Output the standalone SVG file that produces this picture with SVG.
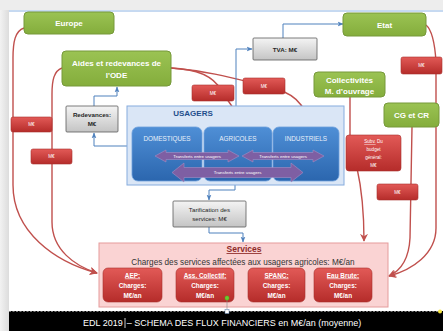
<svg xmlns="http://www.w3.org/2000/svg" width="443" height="331" viewBox="0 0 443 331">
<defs>
<linearGradient id="gGreen" x1="0" y1="0" x2="0" y2="1"><stop offset="0" stop-color="#9BC353"/><stop offset="1" stop-color="#84AD3C"/></linearGradient>
<linearGradient id="gRed" x1="0" y1="0" x2="0" y2="1"><stop offset="0" stop-color="#E25A57"/><stop offset="1" stop-color="#B52C2A"/></linearGradient>
<linearGradient id="gGray" x1="0" y1="0" x2="0" y2="1"><stop offset="0" stop-color="#F4F4F4"/><stop offset="1" stop-color="#C4C4C4"/></linearGradient>
<linearGradient id="gBlue" x1="0" y1="0" x2="0" y2="1"><stop offset="0" stop-color="#4F8FD6"/><stop offset="1" stop-color="#2B66AE"/></linearGradient>
<linearGradient id="gLeft" x1="0" y1="0" x2="1" y2="0"><stop offset="0" stop-color="#F2F2F2"/><stop offset="1" stop-color="#DCDCDC"/></linearGradient>
<marker id="aRedL" viewBox="0 0 10 10" refX="9" refY="5" markerWidth="8" markerHeight="8" orient="auto" markerUnits="userSpaceOnUse">
<path d="M0,0 L10,5 L0,10 L3,5 Z" fill="#C0504D"/></marker>
<marker id="aBlue" viewBox="0 0 10 10" refX="9" refY="5" markerWidth="6" markerHeight="6" orient="auto" markerUnits="userSpaceOnUse">
<path d="M0,1 L10,5 L0,9 L2.5,5 Z" fill="#4F81BD"/></marker>
</defs>
<style>
text{font-family:"Liberation Sans",Arial,sans-serif;text-anchor:middle}
.green{fill:url(#gGreen);stroke:#76993A;stroke-width:1}
.gt{fill:#fff;font-weight:bold;font-size:8px}
.red{fill:url(#gRed);stroke:#A8302E;stroke-width:0.6}
.rt{fill:#fff;font-size:4.6px}
.gray{fill:url(#gGray);stroke:#5A5A5A;stroke-width:0.8}
.grt{fill:#262626;font-size:6.2px}
.rl{fill:none;stroke:#C0504D;stroke-width:1.4}
.bl{fill:none;stroke:#4F81BD;stroke-width:1}
.inner{fill:url(#gBlue);stroke:#6C9FDC;stroke-width:0.8}
.it{fill:#E8F0FA;font-size:6.4px}
.purple{fill:#7E5FA3;stroke:#A58FC4;stroke-width:0.6}
.pt{fill:#fff;font-size:4.4px}
.svc{fill:url(#gRed);stroke:#A8302E;stroke-width:0.6}
.st{fill:#fff;font-size:6.4px;font-weight:bold}
</style>
<rect x="0" y="0" width="443" height="331" fill="#fff"/>
<rect x="0" y="0" width="9" height="331" fill="url(#gLeft)"/>
<rect x="0" y="0" width="443" height="10" fill="#EDEDED"/>
<line x1="9" y1="11" x2="443" y2="11" stroke="#8EB4E3" stroke-width="1"/>

<g id="connectors">
<path class="rl" d="M24,28 C15,31 13,42 13,58 L13,185 C13,232 55,262 97,273" marker-end="url(#aRedL)"/>
<path class="rl" d="M62,68 C54,71 52,80 52,94 L52,222 C52,250 75,266 97,273" marker-end="url(#aRedL)"/>
<path class="rl" d="M171,68 C198,69 214,77 221,90 C229,104 238,110 238,125" marker-end="url(#aRedL)"/>
<path class="rl" d="M171,68 C210,71 240,80 265,86 C296,92 307,106 307,125" marker-end="url(#aRedL)"/>
<path class="rl" d="M350,97 L350,140"/>
<path class="rl" d="M357,168 C362,190 364,210 364,241" marker-end="url(#aRedL)"/>
<path class="rl" d="M426,25 C432,30 435,45 436,62 L436,228 C436,254 412,270 389,276" marker-end="url(#aRedL)"/>
<path class="rl" d="M412,127 L410,238 C409,258 402,270 389,276" marker-end="url(#aRedL)"/>
<path class="bl" d="M94,106 L94,96 L117,96 L117,87" marker-end="url(#aBlue)"/>
<path class="bl" d="M128,146 L94,146 L94,133" marker-end="url(#aBlue)"/>
<path class="bl" d="M236,106 L236,49 L252,49" marker-end="url(#aBlue)"/>
<path class="bl" d="M283,38 L283,24 L343,24" marker-end="url(#aBlue)"/>
<path class="bl" d="M235,185 L235,190 L209,190 L209,200" marker-end="url(#aBlue)"/>
<path class="bl" d="M209,227 L209,233 L243,233 L243,242" marker-end="url(#aBlue)"/>
</g>

<g id="europe"><rect class="green" x="24" y="12" width="90" height="22" rx="4"/><text class="gt" x="69" y="26">Europe</text></g>
<g id="aides"><rect class="green" x="62" y="51" width="109" height="35" rx="4"/><text class="gt" x="116.5" y="66">Aides et redevances de</text><text class="gt" x="116.5" y="78">l'ODE</text></g>
<g id="etat"><rect class="green" x="343" y="13" width="83" height="23" rx="4"/><text class="gt" x="384.5" y="27.5">Etat</text></g>
<g id="collectivites"><rect class="green" x="314" y="72" width="71" height="25" rx="4"/><text class="gt" x="349.5" y="82.5">Collectivités</text><text class="gt" x="349.5" y="93.5">M. d’ouvrage</text></g>
<g id="cgcr"><rect class="green" x="384" y="103" width="55" height="24" rx="4"/><text class="gt" x="411.5" y="118">CG et CR</text></g>

<g id="redevances"><rect class="gray" x="66" y="106" width="52" height="26" rx="1"/><text class="grt" x="92" y="117" font-weight="bold">Redevances:</text><text class="grt" x="92" y="126" font-weight="bold">M€</text></g>
<g id="tva"><rect class="gray" x="253" y="38" width="64" height="22" rx="1"/><text class="grt" x="285" y="51.5" font-weight="bold">TVA: M€</text></g>
<g id="tarification"><rect class="gray" x="173" y="201" width="73" height="26" rx="1"/><text class="grt" x="209.5" y="212">Tarification des</text><text class="grt" x="209.5" y="221">services: M€</text></g>

<g id="me1"><rect class="red" x="11" y="117" width="41" height="15" rx="2"/><text class="rt" x="31.5" y="126.2">M€</text></g>
<g id="me2"><rect class="red" x="31" y="149" width="41" height="15" rx="2"/><text class="rt" x="51.5" y="158.2">M€</text></g>
<g id="me3"><rect class="red" x="192" y="85" width="42" height="16" rx="2"/><text class="rt" x="213" y="94.5">M€</text></g>
<g id="me4"><rect class="red" x="243" y="78" width="42" height="16" rx="2"/><text class="rt" x="264" y="87.5">M€</text></g>
<g id="me5"><rect class="red" x="401" y="57" width="41" height="17" rx="2"/><text class="rt" x="421.5" y="67">M€</text></g>
<g id="me6"><rect class="red" x="377" y="184" width="41" height="16" rx="2"/><text class="rt" x="397.5" y="193.5">M€</text></g>
<g id="subv"><rect class="red" x="346" y="135" width="55" height="36" rx="3"/>
<text class="rt" x="373.5" y="143"><tspan text-decoration="underline">Subv.</tspan> Du</text>
<text class="rt" x="373.5" y="151">budget</text><text class="rt" x="373.5" y="159">général:</text><text class="rt" x="373.5" y="167">M€</text></g>

<g id="usagers">
<rect x="127" y="106" width="217" height="79" fill="#DAE6F6" stroke="#86ACDE" stroke-width="1"/>
<text x="193" y="116" fill="#1F4E8C" font-size="8px" font-weight="bold">USAGERS</text>
<g id="domestiques"><rect class="inner" x="132" y="127" width="70" height="54" rx="6"/><text class="it" x="167" y="141">DOMESTIQUES</text></g>
<g id="agricoles"><rect class="inner" x="204" y="127" width="68" height="54" rx="6"/><text class="it" x="238" y="141">AGRICOLES</text></g>
<g id="industriels"><rect class="inner" x="273" y="127" width="66" height="54" rx="6"/><text class="it" x="306" y="141">INDUSTRIELS</text></g>
<polygon class="purple" points="155,156 166,150 166,152.5 228,152.5 228,150 239,156 228,162 228,159.5 166,159.5 166,162"/>
<text class="pt" x="197" y="157.6">Transferts entre usagers</text>
<polygon class="purple" points="242,156 253,150 253,152.5 313,152.5 313,150 324,156 313,162 313,159.5 253,159.5 253,162"/>
<text class="pt" x="283" y="157.6">Transferts entre usagers</text>
<polygon class="purple" points="172,172.5 184,163 184,167.5 291,167.5 291,163 303,172.5 291,182 291,177.5 184,177.5 184,182"/>
<text class="pt" x="237.5" y="174.2">Transferts entre usagers</text>
</g>

<g id="services">
<rect x="99" y="243" width="289" height="64" fill="#FAD3D3" stroke="#E59C9C" stroke-width="1"/>
<text x="244" y="252" fill="#8E2B29" font-size="8.5px" font-weight="bold" text-decoration="underline">Services</text>
<text x="243" y="264.5" fill="#333" font-size="8.2px">Charges des services affectées aux usagers agricoles: M€/an</text>
<g id="aep"><rect class="svc" x="103" y="268" width="59" height="34" rx="5"/><text class="st" x="132.5" y="277.5" text-decoration="underline">AEP:</text><text class="st" x="132.5" y="287.5">Charges:</text><text class="st" x="132.5" y="297.5">M€/an</text></g>
<g id="asscoll"><rect class="svc" x="176" y="268" width="58" height="34" rx="5"/><text class="st" x="205" y="277.5" text-decoration="underline">Ass. Collectif:</text><text class="st" x="205" y="287.5">Charges:</text><text class="st" x="205" y="297.5">M€/an</text></g>
<g id="spanc"><rect class="svc" x="248" y="268" width="57" height="34" rx="5"/><text class="st" x="276.5" y="277.5" text-decoration="underline">SPANC:</text><text class="st" x="276.5" y="287.5">Charges:</text><text class="st" x="276.5" y="297.5">M€/an</text></g>
<g id="eaubrute"><rect class="svc" x="314" y="268" width="58" height="34" rx="5"/><text class="st" x="343" y="277.5" text-decoration="underline">Eau Brute:</text><text class="st" x="343" y="287.5">Charges:</text><text class="st" x="343" y="297.5">M€/an</text></g>
</g>

<line x1="227" y1="298" x2="227" y2="311" stroke="#8A8A8A" stroke-width="0.6"/>
<circle cx="227" cy="298" r="2.2" fill="#6CCB2E" stroke="#4E9A1E" stroke-width="0.4"/>

<g id="footer">
<rect x="9" y="311" width="434" height="20" fill="#000"/>
<line x1="9" y1="311.5" x2="443" y2="311.5" stroke="#9A9A9A" stroke-width="0.8" stroke-dasharray="2,1.5"/>
<rect x="225" y="309.5" width="4" height="4" fill="#fff" stroke="#5A7FB0" stroke-width="0.5"/>
<circle cx="440" cy="311.5" r="2" fill="#F4E542"/>
<text x="83" y="326" fill="#fff" font-size="9px" style="text-anchor:start">EDL 2019<tspan dx="4">– SCHEMA DES FLUX FINANCIERS  en M€/an (moyenne)</tspan></text>
<line x1="125" y1="318" x2="125" y2="328" stroke="#fff" stroke-width="0.8"/>
</g>
</svg>
